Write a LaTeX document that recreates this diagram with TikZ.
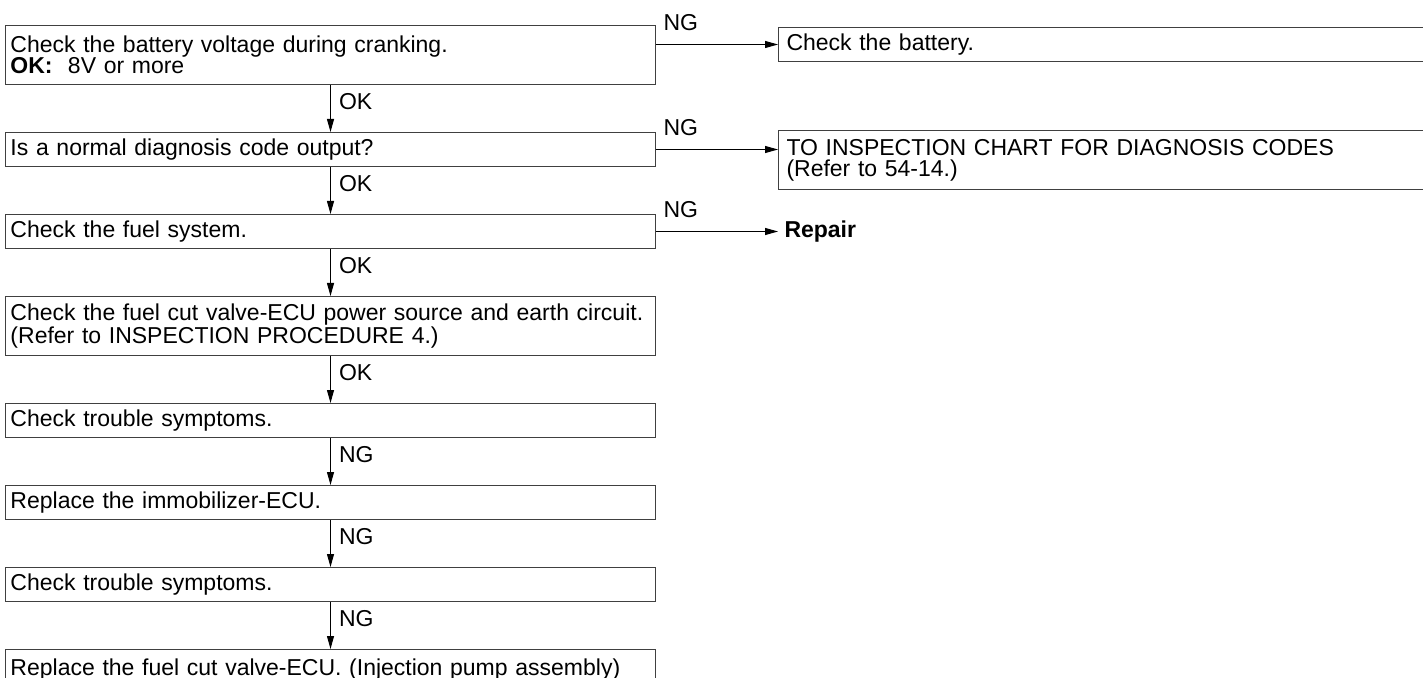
\documentclass[tikz,border=0pt]{standalone}
\usepackage{fontspec}
\setmainfont{Liberation Sans}[WordSpace=1.6]
\usetikzlibrary{arrows.meta,positioning}

\begin{document}
\begin{tikzpicture}[
  font=\fontsize{11.5}{10.5}\selectfont,>={Triangle[length=6.5pt,width=3.5pt]},
  line width=0.5pt,
  chk/.style={draw=black!75,minimum width=325pt,text width=320pt,inner xsep=2.5pt,inner ysep=0pt,align=left,minimum height=17pt},
  chk2/.style={chk,minimum height=29.5pt},
  res/.style={draw=black!75,minimum width=340pt,text width=332pt,inner xsep=4pt,inner ysep=0pt,align=left,minimum height=17pt},
  lbl/.style={right,inner sep=2pt,xshift=2pt,pos=0.35},
  ng/.style={anchor=base west,inner sep=1pt,xshift=2.5pt,yshift=7pt}
]
\useasboundingbox (0,0) rectangle (711.5pt,-339pt);
% main column
\node[chk2,anchor=north west] (batt) at (2.5pt,-12.5pt) {Check the battery voltage during cranking.\\ \textbf{OK:}\ \ 8V or more};
\node[chk,below=23.5pt of batt] (code) {Is a normal diagnosis code output?};
\node[chk,below=23.5pt of code] (fuel) {Check the fuel system.};
\node[chk2,below=23.5pt of fuel] (pwr) {Check the fuel cut valve-ECU power source and earth circuit.\\ (Refer to INSPECTION PROCEDURE 4.)};
\node[chk,below=23.5pt of pwr] (sym1) {Check trouble symptoms.};
\node[chk,below=23.5pt of sym1] (immo) {Replace the immobilizer-ECU.};
\node[chk,below=23.5pt of immo] (sym2) {Check trouble symptoms.};
\node[chk,below=23.5pt of sym2,minimum height=20pt] (valve) {Replace the fuel cut valve-ECU. (Injection pump assembly)};
% NG branches
\node[res,right=61pt of batt.north east,anchor=north west,yshift=-1pt] (battchk) {Check the battery.};
\node[res,minimum height=29.5pt,right=61pt of code.north east,anchor=north west,yshift=1pt] (chart) {TO INSPECTION CHART FOR DIAGNOSIS CODES\\ (Refer to 54-14.)};
\node[right=61pt of fuel,inner sep=3pt] (rep) {\textbf{Repair}};
\draw[->] (battchk.west -| batt.east) node[ng]{NG} -- (battchk.west);
\draw[->] (code.east) node[ng]{NG} -- (code.east -| chart.west);
\draw[->] (fuel.east) node[ng]{NG} -- (rep.west);
% down the column
\draw[->] (batt) -- node[lbl]{OK} (code);
\draw[->] (code) -- node[lbl]{OK} (fuel);
\draw[->] (fuel) -- node[lbl]{OK} (pwr);
\draw[->] (pwr) -- node[lbl]{OK} (sym1);
\draw[->] (sym1) -- node[lbl]{NG} (immo);
\draw[->] (immo) -- node[lbl]{NG} (sym2);
\draw[->] (sym2) -- node[lbl]{NG} (valve);
\end{tikzpicture}
\end{document}
